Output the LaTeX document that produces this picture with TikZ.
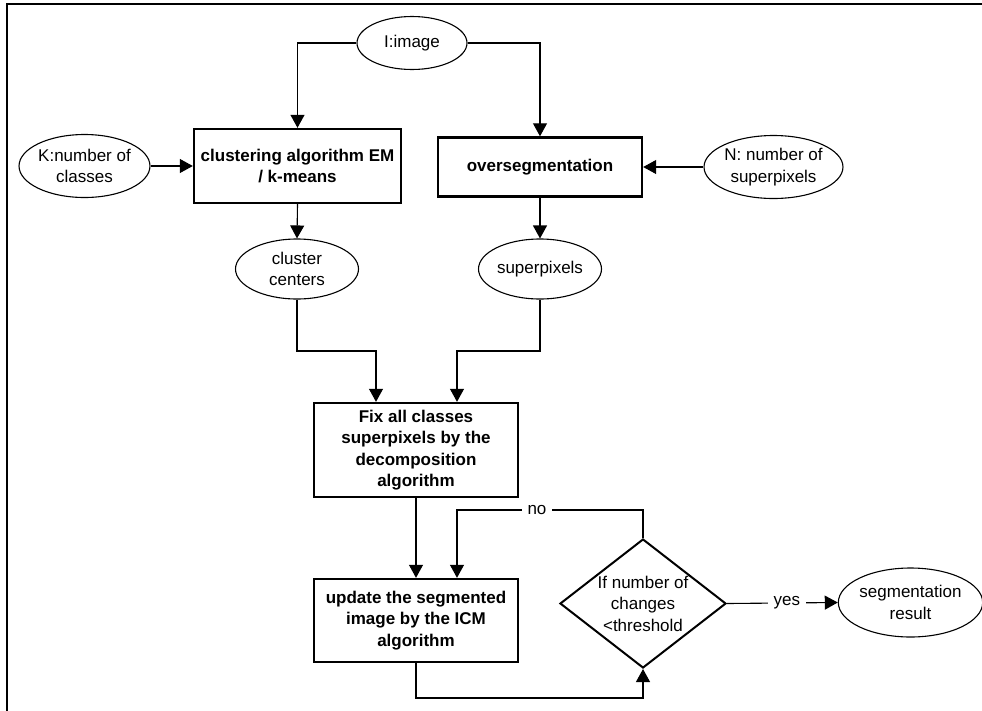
\documentclass[tikz,border=0pt]{standalone}
\usepackage{fontspec}
\setmainfont{Liberation Sans}
\usetikzlibrary{arrows.meta,shapes.geometric}
\begin{document}
\begin{tikzpicture}[x=1pt,y=-1pt,
  every node/.style={font=\fontsize{17}{21.5}\selectfont, align=center, inner sep=0pt},
  proc/.style={draw, line width=2.4pt, rectangle, font=\fontsize{17}{21.5}\selectfont\bfseries},
  oval/.style={draw, line width=1.1pt, ellipse},
  dec/.style={draw, line width=2pt, diamond},
  conn/.style={line width=1.1pt, -{Triangle[length=13pt,width=14pt]}},
  lbl/.style={fill=white, inner xsep=6pt, inner ysep=2pt}]
\useasboundingbox (0,0) rectangle (982,710);
\clip (0,0) rectangle (982,710);
\draw[line width=2pt] (7,720) -- (7,4) -- (1000,4);

\node[oval, minimum width=110pt, minimum height=53pt] (img) at (412,43) {I:image};
\node[proc, minimum width=207pt, minimum height=74pt] (clu) at (297.5,166) {clustering algorithm EM\\/ k-means};
\node[oval, minimum width=125pt, minimum height=63pt] (K) at (84.5,166) {K:number of\\classes};
\node[oval, minimum width=123pt, minimum height=60pt] (cc) at (297,269) {cluster\\centers};
\node[proc, minimum width=204pt, minimum height=59pt] (ovs) at (540,167) {oversegmentation};
\node[oval, minimum width=129pt, minimum height=63pt] (N) at (773.5,167) {N: number of\\superpixels};
\node[oval, minimum width=123pt, minimum height=60pt] (sp) at (540,269) {superpixels};
\node[proc, minimum width=204pt, minimum height=94pt] (fix) at (416,450) {Fix all classes\\superpixels by the\\decomposition\\algorithm};
\node[proc, minimum width=204pt, minimum height=83pt] (upd) at (416,620.5) {update the segmented\\image by the ICM\\algorithm};
\node[dec, minimum width=166pt, minimum height=129pt] (dia) at (643,603.5) {};
\node (diatext) at (dia.center) {If number of\\changes\\<threshold};
\node[oval, minimum width=137pt, minimum height=69pt] (seg) at (910.5,602.5) {segmentation\\result};

\coordinate (ymid) at (0,351);
\coordinate (yno) at (0,510);
\coordinate (ybot) at (0,698);

\draw[conn] (img.west) -| (clu.north);
\draw[conn] (img.east) -| (ovs.north);
\draw[conn] (K.east) -- (clu.west);
\draw[conn] (N.west) -- (ovs.east);
\draw[conn] (clu.south) -- (cc.north);
\draw[conn] (ovs.south) -- (sp.north);
\draw[conn] (cc.south) -- (cc.south |- ymid) -| ([xshift=-40pt]fix.north);
\draw[conn] (sp.south) -- (sp.south |- ymid) -| ([xshift=41pt]fix.north);
\draw[conn] (fix.south) -- (upd.north);
\draw[conn] (dia.north) -- (dia.north |- yno) coordinate (nb)
  -- node[lbl, pos=0.57] {no} ([xshift=41pt]upd.north |- nb) -- ([xshift=41pt]upd.north);
\draw[conn] (upd.south) -- (upd.south |- ybot) -| (dia.south);
\draw[conn] (dia.east) -- node[lbl, pos=0.54] {yes} (seg.west);
\end{tikzpicture}
\end{document}
